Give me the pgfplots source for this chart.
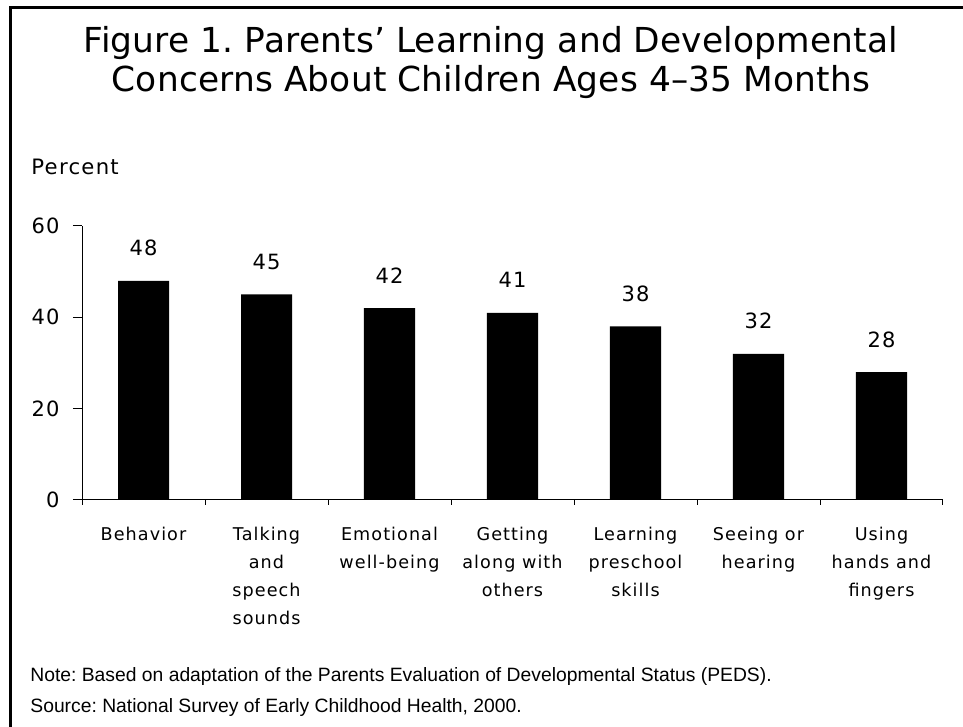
\documentclass[border=0pt]{standalone}
\usepackage{fontspec}
\setmainfont{Liberation Sans}
\newfontfamily\titlefont[LetterSpace=0.5]{DejaVu Sans}
\newfontfamily\chartfont[LetterSpace=6]{DejaVu Sans}
\newfontfamily\catfont[LetterSpace=6]{DejaVu Sans}
\usepackage{pgfplots}
\pgfplotsset{compat=1.18}
\pgfplotstableread{
x y
0 48
1 45
2 42
3 41
4 38
5 32
6 28
}\datatable
\begin{document}
\frenchspacing
\begin{tikzpicture}[x=1pt,y=1pt]
\useasboundingbox (0,0) rectangle (481.5,363.5);
\draw[line width=1.5pt, line join=miter] (5.25,0) -- (5.25,359.5) -- (481.5,359.5);
\node[anchor=base, inner sep=0pt, font=\titlefont\fontsize{17.2}{20}\selectfont] at (245.5,337) {Figure 1. Parents’ Learning and Developmental};
\node[anchor=base, inner sep=0pt, font=\titlefont\fontsize{17.2}{20}\selectfont] at (245.5,317.5) {Concerns About Children Ages 4–35 Months};
\node[anchor=base west, inner sep=0pt, font=\chartfont\fontsize{10.6}{12}\selectfont] at (15.5,276) {Percent};
\node[anchor=base west, inner sep=0pt, font=\fontsize{9.65}{11}\selectfont] at (15,22.5) {Note: Based on adaptation of the Parents Evaluation of Developmental Status (PEDS).};
\node[anchor=base west, inner sep=0pt, font=\fontsize{9.65}{11}\selectfont] at (15,7) {Source: National Survey of Early Childhood Health, 2000.};
\begin{axis}[
  scale only axis, width=430.5pt, height=137pt,
  at={(41pt,113.5pt)}, anchor=south west,
  xmin=-0.5, xmax=6.5, ymin=0, ymax=60,
  axis x line*=bottom, axis y line*=left,
  axis line style={line width=0.5pt},
  every tick/.style={line width=0.5pt, black},
  tick align=outside,
  major tick length=4.5pt,
  ytick={0,20,40,60},
  /pgf/number format/assume math mode=true,
  yticklabel style={font=\chartfont\fontsize{10.5}{12}\selectfont, inner sep=0pt, xshift=-6.5pt},
  xtick={0,...,6},
  xticklabels={Behavior, {Talking\\and\\speech\\sounds}, {Emotional\\well-being}, {Getting\\along with\\others}, {Learning\\preschool\\skills}, {Seeing or\\hearing}, {Using\\hands and\\fingers}},
  xticklabel style={font=\catfont\fontsize{8.8}{14}\selectfont, align=center, anchor=north, inner sep=0pt, yshift=-9pt},
  x tick style={draw=none},
  extra x ticks={-0.5,0.5,...,6.5},
  extra x tick labels={},
  extra x tick style={major tick length=2.5pt, x tick style={draw=black}},
  ybar, bar width=25.5pt,
  nodes near coords,
  nodes near coords style={anchor=base, yshift=12.5pt, inner sep=0pt, font=\chartfont\fontsize{10.5}{12}\selectfont},
  clip=false,
]
\addplot[fill=black, draw=none] table[x=x, y=y] {\datatable};
\end{axis}
\end{tikzpicture}
\end{document}
